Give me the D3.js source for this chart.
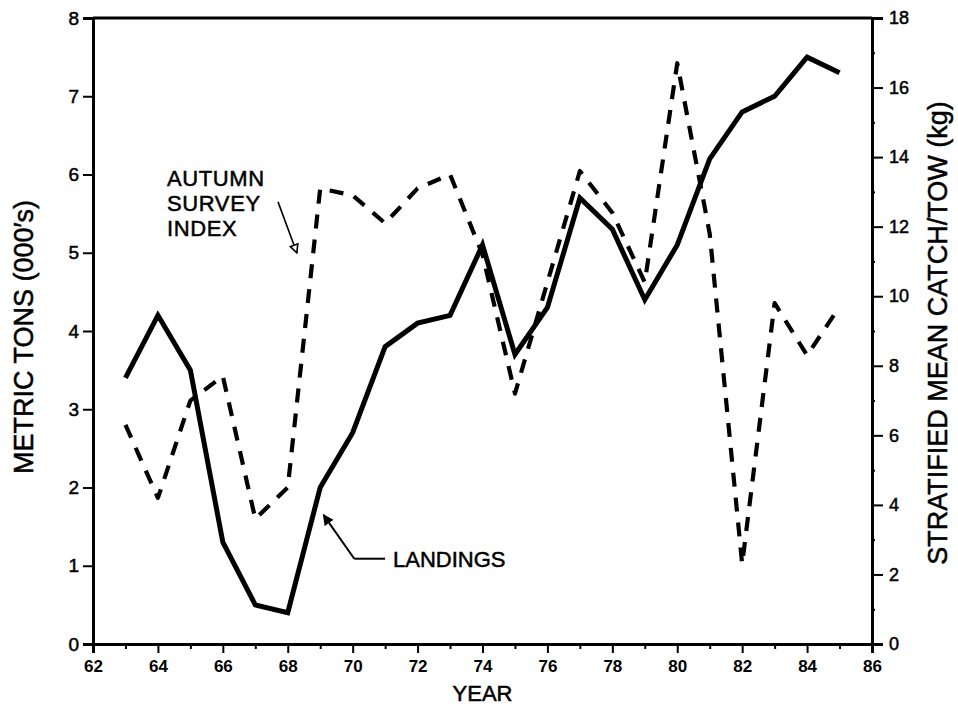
<!DOCTYPE html>
<html>
<head>
<meta charset="utf-8">
<script src="https://cdn.jsdelivr.net/npm/d3@7/dist/d3.min.js"></script>
<style>
  html, body { margin: 0; padding: 0; background: #fff; }
  svg { display: block; }
  text { font-family: "Liberation Sans", Arial, Helvetica, sans-serif; fill: #000; }
  .heavy { stroke: #000; stroke-width: 0.5px; }
</style>
</head>
<body>
<svg id="chart" width="958" height="709"></svg>
<script>
// ---- data ----
const years = [63,64,65,66,67,68,69,70,71,72,73,74,75,76,77,78,79,80,81,82,83,84,85];
const landings = [3.4,4.2,3.5,1.3,0.5,0.4,2.0,2.7,3.8,4.1,4.2,5.1,3.7,4.3,5.7,5.3,4.4,5.1,6.2,6.8,7.0,7.5,7.3];
const surveyIndex = [6.3,4.2,7.0,7.7,3.6,4.5,13.1,12.9,12.1,13.1,13.5,11.2,7.2,10.4,13.6,12.4,10.4,16.7,11.8,2.3,9.8,8.3,9.7];
const xTicks = [62,64,66,68,70,72,74,76,78,80,82,84,86];
const xMinorTicks = [63,65,67,69,71,73,75,77,79,81,83,85];
const leftTicks = [0,1,2,3,4,5,6,7,8];
const rightTicks = [0,2,4,6,8,10,12,14,16,18];
const rightMinorTicks = [1,3,5,7,9,11,13,15,17];
const xTitle = "YEAR";
const leftTitle = "METRIC TONS (000\u2032s)";
const rightTitle = "STRATIFIED MEAN CATCH/TOW (kg)";
const surveyLabel = ["AUTUMN", "SURVEY", "INDEX"];
const landingsLabel = "LANDINGS";

// ---- scales ----
const svg = d3.select("#chart");
const x = d3.scaleLinear().domain([62, 86]).range([93, 872]);
const yL = d3.scaleLinear().domain([0, 8]).range([644, 18]);
const yR = d3.scaleLinear().domain([0, 18]).range([644, 18]);

// ---- axes ----
const gx = svg.append("g").attr("transform", `translate(0,${yL(0)})`)
  .call(d3.axisBottom(x).tickValues(xTicks).tickFormat(d3.format("d")).tickSize(9).tickPadding(7));
gx.selectAll("text").style("font-size", "17px").style("font-weight", "bold");

const gxm = svg.append("g").attr("transform", `translate(0,${yL(0)})`)
  .call(d3.axisBottom(x).tickValues(xMinorTicks).tickFormat("").tickSize(5));
gxm.select(".domain").remove();

const gl = svg.append("g").attr("transform", `translate(${x(62)},0)`)
  .call(d3.axisLeft(yL).tickValues(leftTicks).tickFormat(d3.format("d")).tickSize(10).tickPadding(4));
gl.selectAll("text").style("font-size", "19px").attr("class", "heavy");

const gr = svg.append("g").attr("transform", `translate(${x(86)},0)`)
  .call(d3.axisRight(yR).tickValues(rightTicks).tickFormat(d3.format("d")).tickSize(11).tickPadding(6));
gr.selectAll("text").style("font-size", "18px").attr("class", "heavy");

const grm = svg.append("g").attr("transform", `translate(${x(86)},0)`)
  .call(d3.axisRight(yR).tickValues(rightMinorTicks).tickFormat("").tickSize(3));
grm.select(".domain").remove();

svg.selectAll(".domain").attr("stroke-width", 3).attr("stroke", "#000");
svg.selectAll(".tick line").attr("stroke-width", 2).attr("stroke", "#000");

// top frame line
svg.append("line")
  .attr("x1", x(62)).attr("x2", x(86))
  .attr("y1", yL(8)).attr("y2", yL(8))
  .attr("stroke", "#000").attr("stroke-width", 3);

// ---- titles ----
svg.append("text").attr("x", x(74)).attr("y", 701).attr("class", "heavy")
  .attr("text-anchor", "middle").style("font-size", "22px").text(xTitle);

svg.append("text").attr("class", "heavy")
  .attr("transform", `translate(33,${yL(4) + 6}) rotate(-90)`)
  .attr("text-anchor", "middle").style("font-size", "27px").text(leftTitle);

svg.append("text").attr("class", "heavy")
  .attr("transform", `translate(947,${yL(4) + 2}) rotate(-90)`)
  .attr("text-anchor", "middle").style("font-size", "27px").text(rightTitle);

// ---- lines ----
const lineL = d3.line().x((d, i) => x(years[i])).y(d => yL(d));
const lineR = d3.line().x((d, i) => x(years[i])).y(d => yR(d));

svg.append("path").datum(surveyIndex)
  .attr("d", lineR).attr("fill", "none").attr("stroke", "#000")
  .attr("stroke-width", 4.2).attr("stroke-dasharray", "14,11")
  .attr("stroke-linejoin", "round");

svg.append("path").datum(landings)
  .attr("d", lineL).attr("fill", "none").attr("stroke", "#000")
  .attr("stroke-width", 5).attr("stroke-linejoin", "miter");

// ---- annotations ----
const defs = svg.append("defs");
defs.append("marker").attr("id", "openArrow")
  .attr("viewBox", "0 0 10 10").attr("refX", 9).attr("refY", 5)
  .attr("markerWidth", 10).attr("markerHeight", 10).attr("markerUnits", "userSpaceOnUse")
  .attr("orient", "auto")
  .append("path").attr("d", "M1,1 L9,5 L1,9 Z").attr("fill", "#fff").attr("stroke", "#000").attr("stroke-width", 1.6);
defs.append("marker").attr("id", "solidArrow")
  .attr("viewBox", "0 0 10 10").attr("refX", 9).attr("refY", 5)
  .attr("markerWidth", 11).attr("markerHeight", 11).attr("markerUnits", "userSpaceOnUse")
  .attr("orient", "auto")
  .append("path").attr("d", "M0,0 L10,5 L0,10 Z").attr("fill", "#000");

const surveyText = svg.append("text").attr("class", "heavy")
  .style("font-size", "22px").style("letter-spacing", "0.6px");
surveyLabel.forEach((s, i) => {
  surveyText.append("tspan").attr("x", 167).attr("y", 186 + i * 25).text(s);
});
svg.append("line")
  .attr("x1", x(67.7)).attr("y1", yL(5.65))
  .attr("x2", x(68.28)).attr("y2", yL(5.0))
  .attr("stroke", "#000").attr("stroke-width", 1.6)
  .attr("marker-end", "url(#openArrow)");

svg.append("line")
  .attr("x1", x(70.05)).attr("y1", yL(1.09))
  .attr("x2", x(71.0)).attr("y2", yL(1.09))
  .attr("stroke", "#000").attr("stroke-width", 2);
svg.append("line")
  .attr("x1", x(70.05)).attr("y1", yL(1.09))
  .attr("x2", x(69.1)).attr("y2", yL(1.65))
  .attr("stroke", "#000").attr("stroke-width", 2)
  .attr("marker-end", "url(#solidArrow)");
svg.append("text").attr("x", 393).attr("y", 567).attr("class", "heavy")
  .style("font-size", "22px").text(landingsLabel);
</script>
</body>
</html>
